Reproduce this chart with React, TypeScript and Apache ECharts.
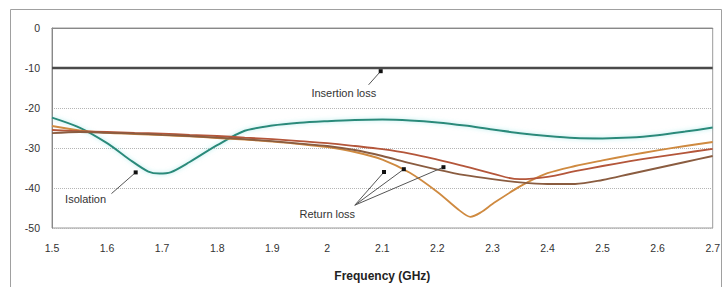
import React, { useEffect, useRef } from 'react';
import * as echarts from 'echarts';

// Frequency grid (GHz)
const freqs = [1.5, 1.55, 1.6, 1.65, 1.7, 1.75, 1.8, 1.85, 1.9, 1.95, 2.0, 2.05, 2.1, 2.15, 2.2, 2.25, 2.3, 2.35, 2.4, 2.45, 2.5, 2.55, 2.6, 2.65, 2.7];

// Isolation (dB), with its own frequency points around the 1.7 GHz notch
const isoFreqs = [1.5, 1.55, 1.6, 1.64, 1.675, 1.695, 1.715, 1.75, 1.8, 1.85, 1.9, 1.95, 2.0, 2.05, 2.1, 2.15, 2.2, 2.25, 2.3, 2.35, 2.4, 2.45, 2.5, 2.55, 2.6, 2.65, 2.7];
const isolation = [-22.4, -24.9, -28.8, -32.8, -35.9, -36.4, -36.1, -33.5, -29.3, -25.7, -24.4, -23.7, -23.3, -23.0, -22.9, -23.1, -23.6, -24.4, -25.4, -26.3, -27.0, -27.5, -27.6, -27.4, -26.8, -25.9, -24.9];

// Return loss, port with deep dip (own frequency points around the dip)
const rl1Freqs = [1.5, 1.55, 1.6, 1.65, 1.7, 1.75, 1.8, 1.85, 1.9, 1.95, 2.0, 2.05, 2.1, 2.15, 2.2, 2.24, 2.26, 2.28, 2.3, 2.35, 2.4, 2.45, 2.5, 2.55, 2.6, 2.65, 2.7];
const returnLoss1 = [-24.5, -25.6, -26.2, -26.5, -26.8, -27.1, -27.5, -27.9, -28.4, -29.0, -29.8, -31.0, -32.9, -36.2, -41.0, -45.6, -47.2, -46.0, -44.0, -39.6, -36.3, -34.5, -33.1, -31.8, -30.6, -29.5, -28.5];

// Return loss, second port
const returnLoss2 = [-25.5, -25.8, -26.0, -26.2, -26.4, -26.7, -27.0, -27.4, -27.8, -28.3, -28.8, -29.5, -30.3, -31.4, -32.9, -34.6, -36.4, -37.8, -37.2, -35.8, -34.5, -33.3, -32.2, -31.2, -30.2];

// Return loss, third port
const returnLoss3 = [-26.3, -26.0, -26.2, -26.4, -26.7, -27.0, -27.4, -27.8, -28.3, -28.9, -29.5, -30.5, -32.0, -33.8, -35.4, -36.8, -37.8, -38.6, -39.0, -39.0, -38.0, -36.5, -35.0, -33.5, -32.0];

// Insertion loss (dB)
const insertionFreqs = [1.5, 2.7];
const insertionLoss = [-10, -10];

// Axis ticks
const xTicks = ['1.5', '1.6', '1.7', '1.8', '1.9', '2', '2.1', '2.2', '2.3', '2.4', '2.5', '2.6', '2.7'];
const yTicks = [0, -10, -20, -30, -40, -50];

// Annotations in data units: label centre, arrow start, arrow tips
const insertionLabel = { text: 'Insertion loss', at: [2.03, -16.2], from: [2.075, -14.2], tips: [[2.097, -10.8]] };
const isolationLabel = { text: 'Isolation', at: [1.561, -42.8], from: [1.608, -41.4], tips: [[1.652, -36.1]] };
const returnLabel = { text: 'Return loss', at: [2.0, -46.6], from: [2.05, -44.3], tips: [[2.103, -36.0], [2.139, -35.3], [2.211, -34.8]] };

const FONT = '"Liberation Sans", Arial, sans-serif';

function pairs(xs: number[], ys: number[]) {
  return xs.map((x, i) => [x, ys[i]]);
}

export default function App() {
  const ref = useRef<HTMLDivElement>(null);
  useEffect(() => {
    if (!ref.current) return;
    const chart = echarts.init(ref.current, undefined, { renderer: 'svg' });
    const option: any = {
      animation: false,
      backgroundColor: '#ffffff',
      grid: { left: 52, right: 5, top: 28, bottom: 58, show: true, borderColor: '#9a9a9a', borderWidth: 1 },
      xAxis: {
        type: 'value',
        min: 1.5,
        max: 2.7,
        interval: 0.1,
        name: 'Frequency (GHz)',
        nameLocation: 'middle',
        nameGap: 42,
        nameTextStyle: { fontFamily: FONT, fontSize: 12, fontWeight: 'bold', color: '#222' },
        axisLine: { show: true, lineStyle: { color: '#888', width: 1 } },
        axisTick: { show: false },
        splitLine: { show: false },
        axisLabel: {
          fontFamily: FONT, fontSize: 10.5, color: '#333', margin: 14,
          formatter: (v: number) => {
            const idx = Math.round((v - 1.5) / 0.1);
            return xTicks[idx] ?? '';
          },
        },
      },
      yAxis: {
        type: 'value',
        min: -50,
        max: 0,
        interval: 10,
        axisLine: { show: true, lineStyle: { color: '#888', width: 1 } },
        axisTick: { show: false },
        splitLine: { show: true, lineStyle: { color: '#b5b5b5', type: 'dotted', width: 1 } },
        axisLabel: {
          fontFamily: FONT, fontSize: 10.5, color: '#333', margin: 12,
          formatter: (v: number) => (yTicks.includes(v) ? String(v) : ''),
        },
      },
      series: [
        {
          name: 'Insertion loss', type: 'line', showSymbol: false,
          data: pairs(insertionFreqs, insertionLoss),
          lineStyle: { color: '#4a4a4a', width: 2.5 }, z: 3,
        },
        {
          name: 'Isolation', type: 'line', smooth: 0.3, showSymbol: false,
          data: pairs(isoFreqs, isolation),
          lineStyle: { color: '#2b8a7a', width: 2, shadowColor: 'rgba(120,220,220,0.6)', shadowBlur: 4 }, z: 3,
        },
        {
          name: 'Return loss 1', type: 'line', smooth: 0.3, showSymbol: false,
          data: pairs(rl1Freqs, returnLoss1),
          lineStyle: { color: '#cf8a40', width: 1.8 }, z: 4,
        },
        {
          name: 'Return loss 2', type: 'line', smooth: 0.4, showSymbol: false,
          data: pairs(freqs, returnLoss2),
          lineStyle: { color: '#b4563a', width: 1.8 }, z: 4,
        },
        {
          name: 'Return loss 3', type: 'line', smooth: 0.3, showSymbol: false,
          data: pairs(freqs, returnLoss3),
          lineStyle: { color: '#8a5c40', width: 1.8 }, z: 4,
        },
      ],
    };
    chart.setOption(option);

    const toPx = (p: number[]) => chart.convertToPixel({ gridIndex: 0 }, p) as number[];
    const graphics: any[] = [
      {
        type: 'rect', silent: true, z: 0,
        shape: { x: 10.5, y: 9.5, width: 711, height: 300 },
        style: { fill: 'none', stroke: '#a0a0a0', lineWidth: 1 },
      },
    ];
    [insertionLabel, isolationLabel, returnLabel].forEach((a) => {
      const c = toPx(a.at);
      const f = toPx(a.from);
      graphics.push({
        type: 'text', z: 10, x: c[0], y: c[1],
        style: { text: a.text, fontFamily: FONT, fontSize: 11, fill: '#333', align: 'center', verticalAlign: 'middle' },
      });
      a.tips.forEach((t) => {
        const tp = toPx(t);
        graphics.push({
          type: 'line', z: 10,
          shape: { x1: f[0], y1: f[1], x2: tp[0], y2: tp[1] },
          style: { stroke: '#555', lineWidth: 1 },
        });
        graphics.push({
          type: 'rect', z: 11,
          shape: { x: tp[0] - 2, y: tp[1] - 2, width: 4, height: 4 },
          style: { fill: '#111' },
        });
      });
    });
    chart.setOption({ graphic: graphics });

    return () => chart.dispose();
  }, []);
  return <div ref={ref} style={{ position: 'fixed', left: 0, top: 0, width: 723, height: 287 }} />;
}
